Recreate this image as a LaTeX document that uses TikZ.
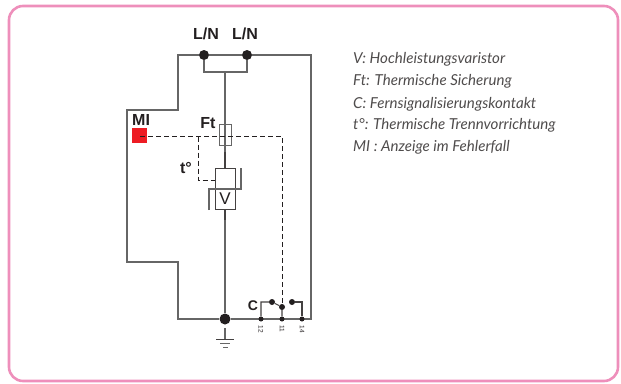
\documentclass[tikz,border=0pt]{standalone}
\usepackage{fontspec}
\setmainfont{Liberation Sans}
\newfontfamily\legendfont{Lato}
\definecolor{framepink}{HTML}{EE8FBB}
\definecolor{wiregray}{HTML}{666666}
\definecolor{inkdark}{HTML}{231F20}
\definecolor{mired}{HTML}{ED1C24}
\tikzset{
 frameline/.style={draw=framepink,line width=2.6pt,rounded corners=14pt},
 wire/.style={draw=wiregray,line width=1.2pt},
 darkwire/.style={draw=inkdark!85,line width=1.1pt},
 ctrl/.style={draw=inkdark,line width=1pt,dash pattern=on 5pt off 3pt},
 bigdot/.style={circle,fill=inkdark,inner sep=0pt,minimum size=#1},
 label/.style={font=\bfseries\fontsize{16}{18}\selectfont,text=inkdark,inner sep=0pt},
 term/.style={font=\fontsize{6.5}{6.5}\selectfont,text=inkdark,rotate=-90,inner sep=0pt},
 legend/.style={font=\legendfont\itshape\fontsize{15.1}{20}\selectfont,text=inkdark!80,anchor=west,inner sep=0pt},
 boxpart/.style={draw=inkdark!85,line width=1pt,fill=white,inner sep=0pt}
}
\begin{document}
\begin{tikzpicture}[x=1pt,y=-1pt]
\useasboundingbox (0,0) rectangle (621,383);
\draw[frameline] (9,6) rectangle (618,381);
% junctions
\node[bigdot=10pt] (ln1) at (204,55) {};
\node[bigdot=10pt] (ln2) at (247,55) {};
\node[bigdot=11pt] (gnd) at (225,319) {};
\coordinate (tr) at (311,55);
\coordinate (br) at (311,319);
\coordinate (tl) at (178,55);
\coordinate (m1) at (178,110);
\coordinate (m2) at (127,110);
\coordinate (m3) at (127,262);
\coordinate (m4) at (178,262);
\coordinate (bl) at (178,319);
\coordinate (brk) at (225,72);
% outer body
\draw[wire] (ln1) -- (tl) -- (m1) -- (m2) -- (m3) -- (m4) -- (bl) -- (gnd);
\draw[wire] (ln1) -- (ln2) -- (tr) -- (br) -- (gnd);
\draw[wire] (ln1) |- (brk) -| (ln2);
\draw[wire] (brk) -- (225,160);
\draw[wire] (225,220) -- (gnd);
% fuse
\node[draw=wiregray,line width=1pt,minimum width=12pt,minimum height=21pt,inner sep=0pt] (ft) at (225,134.5) {};
\draw[darkwire] (225,152) -- (225,168);
\draw[darkwire] (225,209) -- (225,220);
% varistor
\node[boxpart,minimum width=20pt,minimum height=21pt] (tbox) at (225,178.5) {};
\node[boxpart,minimum width=20pt,minimum height=20pt,font=\fontsize{17}{17}\selectfont,text=inkdark] (v) at (225,199) {V};
\coordinate (vl) at (209,189);
\coordinate (vr) at (241,189);
\draw[wire] (209,210) -- (vl) -- (vr) -- (241,168);
% MI indicator
\node[fill=mired,minimum size=15pt,inner sep=0pt] (mi) at (139.5,135.5) {};
\node[label,anchor=base west] at (132,125) {MI};
% thermal link
\coordinate (dash0) at (140,136.5);
\coordinate (dash1) at (198.5,136.5);
\coordinate (dash2) at (198.5,180.5);
\coordinate (dash3) at (282.5,136.5);
\draw[ctrl] (dash0) -- (dash3) -- (282.5,303);
\draw[ctrl] (dash1) -- (dash2) -- (tbox.west |- dash2);
% labels
\node[label,anchor=base] at (208,128) {Ft};
\node[label] at (186,168) {t°};
\node[label,anchor=base] at (206,39) {L/N};
\node[label,anchor=base] at (245,39) {L/N};
% contact
\node[bigdot=5pt] (t12) at (261,319) {};
\node[bigdot=5pt] (t11) at (282,319) {};
\node[bigdot=5pt] (t14) at (302,319) {};
\node[bigdot=6pt] (c1) at (272,302) {};
\node[bigdot=6pt] (c2) at (282,307) {};
\node[bigdot=6pt] (c3) at (292,302) {};
\draw[darkwire] (t12) |- (c1) -- (c2) -- (t11);
\draw[darkwire] (c3) -| (t14);
\draw[wire] (gnd) -- (t12) -- (t11) -- (t14) -- (br);
\node[label,font=\bfseries\fontsize{14}{16}\selectfont] at (253,306) {C};
\node[term] at (261,329) {12};
\node[term] at (282,329) {11};
\node[term] at (302,329) {14};
% earth
\coordinate (e0) at (225,328);
\coordinate (e1) at (225,339);
\draw[wire] (e0) -- (e1);
\draw[darkwire,line width=0.9pt] (216,339) -- (234,339);
\draw[wire,line width=0.9pt] (220,343) -- (230,343);
\draw[wire,line width=0.9pt] (223,347) -- (228,347);
% legend
\node[legend] at (353,59) {V: Hochleistungsvaristor};
\node[legend] at (353,81) {Ft: Thermische Sicherung};
\node[legend] at (353,104) {C: Fernsignalisierungskontakt};
\node[legend] at (353,125) {t°: Thermische Trennvorrichtung};
\node[legend] at (353,147) {MI : Anzeige im Fehlerfall};
\end{tikzpicture}
\end{document}
